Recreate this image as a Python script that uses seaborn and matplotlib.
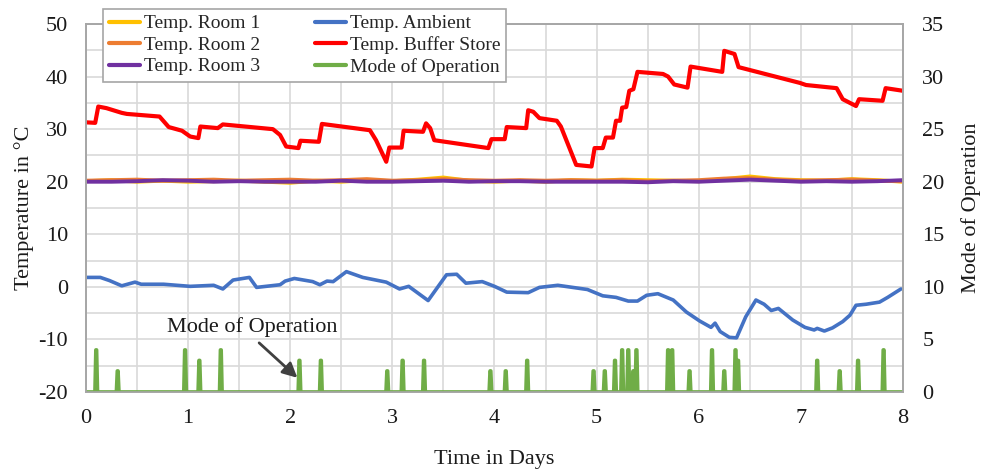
import numpy as np
import pandas as pd
import matplotlib
matplotlib.use("Agg")
import matplotlib.pyplot as plt
import seaborn as sns

# ---------------- data ----------------
buffer_t = [0.00, 0.09, 0.12, 0.20, 0.35, 0.40, 0.72, 0.81, 0.94, 1.02, 1.10, 1.12, 1.29, 1.34,
            1.83, 1.90, 1.96, 2.08, 2.10, 2.28, 2.31, 2.78, 2.84, 2.94, 2.97, 3.09, 3.11, 3.30,
            3.33, 3.37, 3.41, 3.94, 3.97, 4.10, 4.12, 4.31, 4.33, 4.38, 4.44, 4.61, 4.65, 4.80,
            4.95, 4.98, 5.06, 5.09, 5.16, 5.19, 5.23, 5.25, 5.29, 5.32, 5.36, 5.40, 5.65, 5.70,
            5.76, 5.89, 5.92, 6.23, 6.25, 6.35, 6.39, 6.99, 7.05, 7.35, 7.41, 7.54, 7.57, 7.80,
            7.83, 8.00]
buffer_v = [31.3, 31.2, 34.3, 34.0, 33.1, 32.9, 32.4, 30.4, 29.7, 28.6, 28.3, 30.5, 30.2, 30.9,
            30.0, 28.9, 26.7, 26.4, 27.8, 27.6, 31.0, 29.8, 27.9, 23.8, 26.5, 26.5, 29.7, 29.5,
            31.1, 30.2, 27.9, 26.4, 28.1, 28.1, 30.4, 30.2, 33.6, 33.3, 32.1, 31.6, 30.5, 23.2,
            22.9, 26.4, 26.4, 28.4, 28.4, 31.6, 31.6, 34.1, 34.2, 37.3, 37.6, 40.9, 40.5, 40.0,
            38.5, 37.9, 41.9, 40.9, 44.9, 44.3, 41.8, 38.8, 38.4, 37.8, 35.7, 34.4, 35.7, 35.4,
            37.8, 37.3]

ambient_t = [0.00, 0.14, 0.23, 0.35, 0.48, 0.54, 0.76, 1.02, 1.25, 1.34, 1.44, 1.60, 1.67, 1.90,
             1.95, 2.04, 2.22, 2.29, 2.36, 2.42, 2.55, 2.71, 2.94, 3.07, 3.16, 3.35, 3.53, 3.63,
             3.72, 3.88, 4.00, 4.12, 4.33, 4.44, 4.62, 4.91, 5.06, 5.19, 5.31, 5.40, 5.49, 5.60,
             5.75, 5.88, 6.01, 6.12, 6.16, 6.21, 6.30, 6.37, 6.46, 6.56, 6.64, 6.71, 6.78, 6.92,
             7.04, 7.13, 7.16, 7.23, 7.31, 7.41, 7.48, 7.54, 7.64, 7.77, 7.85, 7.98]
ambient_v = [1.8, 1.8, 1.2, 0.2, 0.9, 0.5, 0.5, 0.1, 0.3, -0.4, 1.3, 1.8, -0.1, 0.4,
             1.1, 1.6, 1.0, 0.4, 1.1, 1.0, 2.9, 1.8, 0.9, -0.4, 0.1, -2.6, 2.3, 2.4,
             0.7, 1.0, 0.1, -1.0, -1.1, -0.1, 0.3, -0.5, -1.7, -2.0, -2.7, -2.7, -1.6, -1.3,
             -2.5, -4.8, -6.5, -7.7, -6.9, -8.5, -9.6, -9.7, -5.7, -2.5, -3.3, -4.5, -4.1, -6.3,
             -7.7, -8.2, -7.9, -8.4, -7.8, -6.6, -5.4, -3.5, -3.3, -2.9, -2.0, -0.4]

room_t = [0.00, 0.25, 0.50, 0.75, 1.00, 1.25, 1.50, 1.75, 2.00, 2.25, 2.50, 2.75, 3.00, 3.25,
          3.50, 3.75, 4.00, 4.25, 4.50, 4.75, 5.00, 5.25, 5.50, 5.75, 6.00, 6.25, 6.50, 6.75,
          7.00, 7.25, 7.50, 7.75, 8.00]
room1_v = [20.1, 20.3, 20.0, 20.2, 20.0, 20.1, 20.2, 20.0, 19.8, 20.2, 20.0, 20.3, 20.1, 20.4,
           20.8, 20.2, 20.0, 20.2, 20.0, 20.3, 20.2, 20.4, 20.3, 20.2, 20.1, 20.5, 21.0, 20.5,
           20.3, 20.2, 20.5, 20.3, 20.0]
room2_v = [20.2, 20.3, 20.4, 20.2, 20.3, 20.4, 20.2, 20.3, 20.4, 20.2, 20.3, 20.5, 20.2, 20.3,
           20.5, 20.3, 20.2, 20.3, 20.2, 20.3, 20.2, 20.3, 20.1, 20.2, 20.3, 20.6, 20.7, 20.4,
           20.2, 20.3, 20.4, 20.2, 20.1]
room3_v = [20.0, 20.0, 20.1, 20.3, 20.2, 20.0, 20.1, 20.0, 20.0, 20.0, 20.2, 20.0, 20.0, 20.1,
           20.2, 20.0, 20.1, 20.1, 20.0, 20.0, 20.0, 20.0, 19.9, 20.1, 20.0, 20.2, 20.4, 20.2,
           20.0, 20.1, 20.0, 20.1, 20.3]

mode_times = [0.10, 0.31, 0.97, 1.11, 1.32, 2.09, 2.30, 2.95, 3.10, 3.31, 3.96, 4.11, 4.32,
              4.97, 5.08, 5.18, 5.25, 5.31, 5.36, 5.39, 5.70, 5.74, 5.91, 6.13, 6.25, 6.36,
              6.385, 7.16, 7.38, 7.56, 7.81]
mode_levels = [4, 2, 4, 3, 4, 3, 3, 2, 3, 3, 2, 2, 3,
               2, 2, 3, 4, 4, 2, 4, 4, 4, 2, 4, 2, 4,
               3, 3, 2, 3, 4]

x_ticks = [0, 1, 2, 3, 4, 5, 6, 7, 8]
left_ticks = [-20, -10, 0, 10, 20, 30, 40, 50]
right_ticks = [0, 5, 10, 15, 20, 25, 30, 35]

# Build the mode-of-operation trace (narrow spikes on a zero baseline)
half_w = 0.012
mt, mv = [0.0], [0.0]
for t, lv in zip(mode_times, mode_levels):
    mt += [t - half_w, t - half_w / 4, t + half_w / 4, t + half_w]
    mv += [0, lv, lv, 0]
mt.append(8.0)
mv.append(0.0)

# ---------------- style ----------------
sns.set_theme(style="white")
plt.rcParams["font.family"] = ["Liberation Serif", "DejaVu Serif"]

C_R1 = "#FFC000"
C_R2 = "#ED7D31"
C_R3 = "#7030A0"
C_AMB = "#4472C4"
C_BUF = "#FF0000"
C_MODE = "#70AD47"
GRID = "#D9D9D9"
SPINE = "#A6A6A6"
TXT = "#1a1a1a"

fig, ax = plt.subplots(figsize=(9.83, 4.71), dpi=100)
fig.subplots_adjust(left=0.0875, right=0.9186, top=0.949, bottom=0.1677)
ax2 = ax.twinx()

kw = dict(sort=False, estimator=None)
sns.lineplot(x=room_t, y=room1_v, ax=ax, color=C_R1, linewidth=2.8, label="Temp. Room 1", **kw)
sns.lineplot(x=room_t, y=room2_v, ax=ax, color=C_R2, linewidth=2.8, label="Temp. Room 2", **kw)
sns.lineplot(x=room_t, y=room3_v, ax=ax, color=C_R3, linewidth=2.8, label="Temp. Room 3", **kw)
sns.lineplot(x=ambient_t, y=ambient_v, ax=ax, color=C_AMB, linewidth=2.6, label="Temp. Ambient", **kw)
sns.lineplot(x=buffer_t, y=buffer_v, ax=ax, color=C_BUF, linewidth=3.0, label="Temp. Buffer Store", **kw)
sns.lineplot(x=mt, y=mv, ax=ax2, color=C_MODE, linewidth=2.7, label="Mode of Operation", **kw)

for a in (ax, ax2):
    lg = a.get_legend()
    if lg is not None:
        lg.remove()

ax.set_xlim(0, 8)
ax.set_ylim(-20, 50)
ax2.set_ylim(0, 35)
ax.set_xticks(x_ticks)
ax.set_xticklabels([str(v) for v in x_ticks])
ax.set_yticks(left_ticks)
ax.set_yticklabels([str(v) for v in left_ticks])
ax2.set_yticks(right_ticks)
ax2.set_yticklabels([str(v) for v in right_ticks])

# grid every half day and every 5 degC
ax.set_xticks(np.arange(0, 8.01, 0.5), minor=True)
ax.set_yticks(np.arange(-20, 50.01, 5), minor=True)
ax.grid(True, which="both", color=GRID, linewidth=1.2)
ax.set_axisbelow(True)
ax2.grid(False)

ax.tick_params(axis="both", which="both", length=0, labelsize=16, colors=TXT)
ax.tick_params(axis="x", pad=12)
ax.tick_params(axis="y", pad=13)
ax2.tick_params(axis="y", length=0, labelsize=16, pad=14, colors=TXT)

for a in (ax, ax2):
    for s in a.spines.values():
        s.set_color(SPINE)
        s.set_linewidth(1.2)

ax.set_xlabel("Time in Days", fontsize=16, labelpad=16, color=TXT)
ax.set_ylabel("Temperature in °C", fontsize=16, labelpad=3, color=TXT)
ax2.set_ylabel("Mode of Operation", fontsize=16, labelpad=12, color=TXT)

ax2.annotate("Mode of Operation", xy=(2.07, 1.35), xytext=(1.63, 6.2),
             xycoords="data", textcoords="data", ha="center", va="center",
             fontsize=16, color=TXT,
             arrowprops=dict(arrowstyle="-|>", color="#404040", lw=2,
                             mutation_scale=22, shrinkA=3, shrinkB=0,
                             relpos=(0.5, 0.0)))

h1, l1 = ax.get_legend_handles_labels()
h2, l2 = ax2.get_legend_handles_labels()
handles = h1 + h2
labels = l1 + l2
leg = ax2.legend(handles, labels, ncol=2, loc="upper left",
                 bbox_to_anchor=(103 / 983, 1 - 9 / 471), bbox_transform=fig.transFigure,
                 fontsize=14, frameon=True, fancybox=False, framealpha=1,
                 edgecolor="#A6A6A6", borderpad=0.3, labelspacing=0.2,
                 handlelength=1.6, handletextpad=0.2, columnspacing=2.8,
                 borderaxespad=0)
leg.get_frame().set_linewidth(1.2)
for line in leg.get_lines():
    line.set_linewidth(3)

fig.savefig("out.png", dpi=100)
